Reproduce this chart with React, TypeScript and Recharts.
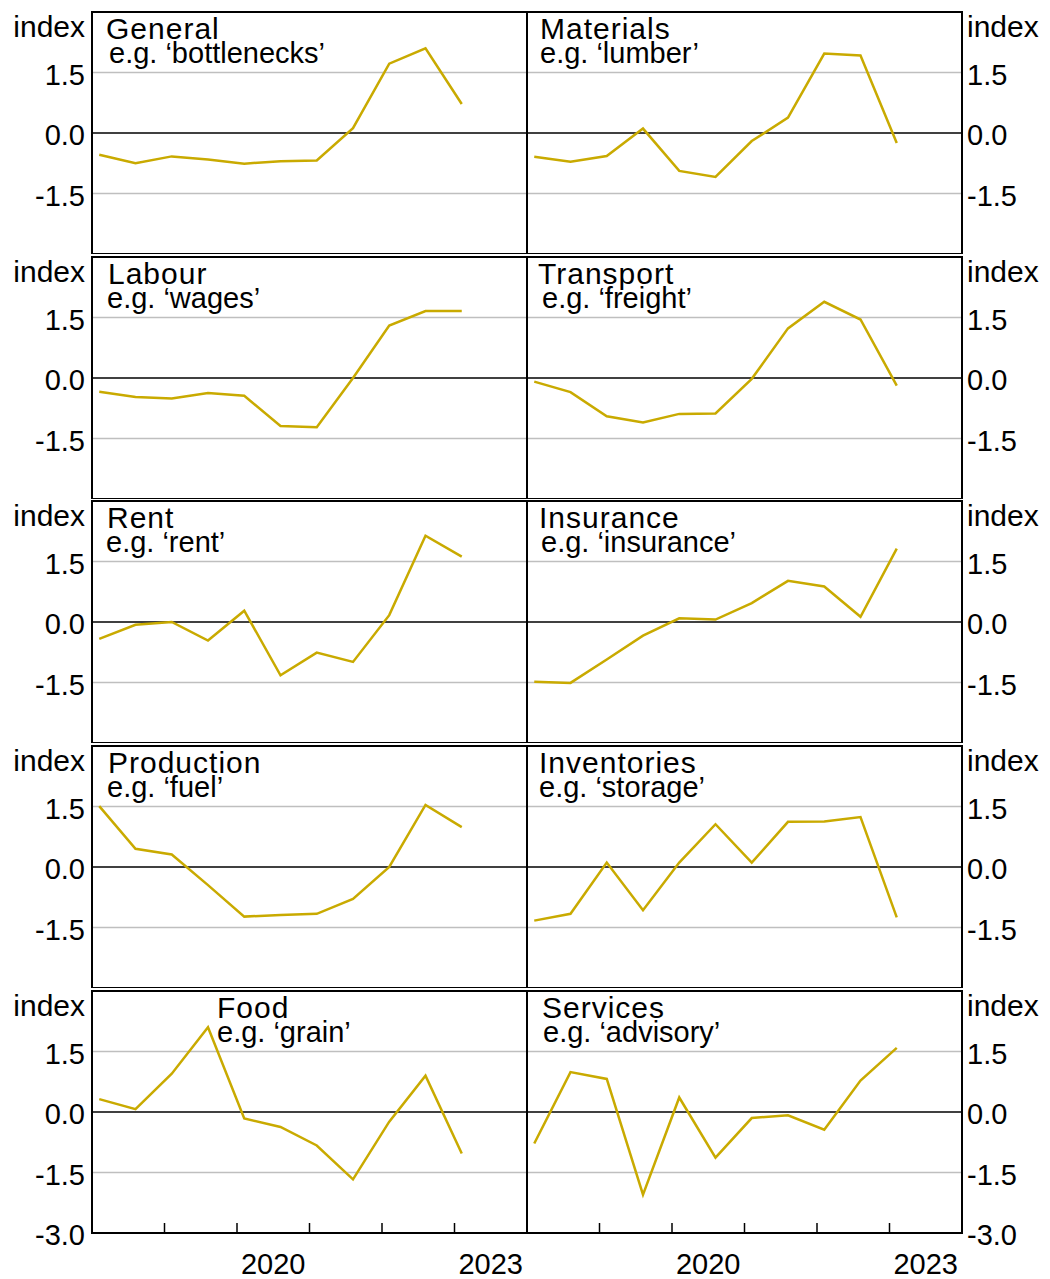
import React from 'react';
import { LineChart, Line, XAxis, YAxis, CartesianGrid, ReferenceLine, ReferenceArea } from 'recharts';

// Half-yearly observation dates (decimal years)
const periods = [2018.1, 2018.6, 2019.1, 2019.6, 2020.1, 2020.6, 2021.1, 2021.6, 2022.1, 2022.6, 2023.1];

const general = [-0.54, -0.75, -0.58, -0.66, -0.76, -0.7, -0.68, 0.12, 1.72, 2.1, 0.72];
const materials = [-0.59, -0.71, -0.57, 0.11, -0.94, -1.09, -0.2, 0.38, 1.97, 1.92, -0.25];
const labour = [-0.34, -0.47, -0.51, -0.37, -0.44, -1.19, -1.22, 0.0, 1.3, 1.66, 1.66];
const transport = [-0.09, -0.35, -0.95, -1.1, -0.89, -0.88, -0.02, 1.23, 1.89, 1.45, -0.19];
const rent = [-0.42, -0.07, 0.0, -0.46, 0.28, -1.32, -0.76, -0.99, 0.17, 2.14, 1.62];
const insurance = [-1.48, -1.51, -0.93, -0.34, 0.09, 0.06, 0.47, 1.02, 0.88, 0.13, 1.82];
const production = [1.51, 0.45, 0.31, -0.45, -1.23, -1.19, -1.16, -0.79, 0.0, 1.54, 0.99];
const inventories = [-1.33, -1.16, 0.11, -1.07, 0.11, 1.06, 0.11, 1.12, 1.13, 1.24, -1.25];
const food = [0.32, 0.07, 0.95, 2.1, -0.16, -0.37, -0.83, -1.67, -0.24, 0.9, -1.03];
const services = [-0.78, 0.99, 0.82, -2.05, 0.36, -1.13, -0.15, -0.08, -0.44, 0.78, 1.59];

const yTicksTop = [-1.5, 0, 1.5];
const yTicksBottom = [-3, -1.5, 0, 1.5];
// year boundaries get tick marks; mid-year positions carry the year labels
const yearTicks = [2019, 2020, 2021, 2022, 2023];
const yearLabelTicks = [2020.5, 2023.5];
const xTicks = [...yearTicks, ...yearLabelTicks].sort((a, b) => a - b);
const xDomain = [2018, 2024];
const yDomain = [-3, 3];

const panels = [
  { title: 'General', sub: 'e.g. \u2018bottlenecks\u2019', values: general, side: 'left', row: 0, tx: 106, sx: 109 },
  { title: 'Materials', sub: 'e.g. \u2018lumber\u2019', values: materials, side: 'right', row: 0, tx: 540, sx: 540 },
  { title: 'Labour', sub: 'e.g. \u2018wages\u2019', values: labour, side: 'left', row: 1, tx: 108, sx: 107 },
  { title: 'Transport', sub: 'e.g. \u2018freight\u2019', values: transport, side: 'right', row: 1, tx: 538, sx: 542 },
  { title: 'Rent', sub: 'e.g. \u2018rent\u2019', values: rent, side: 'left', row: 2, tx: 107, sx: 106 },
  { title: 'Insurance', sub: 'e.g. \u2018insurance\u2019', values: insurance, side: 'right', row: 2, tx: 539, sx: 541 },
  { title: 'Production', sub: 'e.g. \u2018fuel\u2019', values: production, side: 'left', row: 3, tx: 108, sx: 107 },
  { title: 'Inventories', sub: 'e.g. \u2018storage\u2019', values: inventories, side: 'right', row: 3, tx: 539, sx: 539 },
  { title: 'Food', sub: 'e.g. \u2018grain\u2019', values: food, side: 'left', row: 4, tx: 217, sx: 217 },
  { title: 'Services', sub: 'e.g. \u2018advisory\u2019', values: services, side: 'right', row: 4, tx: 542, sx: 543 },
];

const FONT = '"Liberation Sans", Arial, Helvetica, sans-serif';
const LINE_COLOR = '#C9AA00';
const ROW_TOPS = [12, 257, 501, 746, 991];
const TOP_PAD = 10;
const PLOT_H = 242;
const X_AXIS_H = 46;
const LEFT_W = 527;
const RIGHT_X = 527;
const RIGHT_W = 523;

const YTick = (props: any) => {
  const { x, y, payload, textAnchor } = props;
  return (
    <text x={x} y={y} dy={12} textAnchor={textAnchor} fontSize={29} fill="#000" fontFamily={FONT}>
      {Number(payload.value).toFixed(1)}
    </text>
  );
};

const XTick = (props: any) => {
  const { x, y, payload } = props;
  const v = Number(payload.value);
  if (Number.isInteger(v)) {
    return <line x1={x} x2={x} y1={y} y2={y - 10} stroke="#000" strokeWidth={1.5} />;
  }
  return (
    <text x={x} y={y} dy={41} textAnchor="middle" fontSize={29} fill="#000" fontFamily={FONT}>
      {Math.floor(v)}
    </text>
  );
};

function Panel({ p }: { p: any }) {
  const isLeft = p.side === 'left';
  const isBottom = p.row === 4;
  const width = isLeft ? LEFT_W : RIGHT_W;
  const height = TOP_PAD + PLOT_H + (isBottom ? X_AXIS_H : 0);
  const originX = isLeft ? 0 : RIGHT_X;
  const data = periods.map((x, i) => ({ x, v: p.values[i] }));
  return (
    <div style={{ position: 'absolute', left: originX, top: ROW_TOPS[p.row] - TOP_PAD, width, height }}>
      <LineChart width={width} height={height} data={data} margin={{ top: TOP_PAD, right: 0, bottom: 0, left: 0 }}>
        <XAxis
          type="number"
          dataKey="x"
          domain={xDomain}
          ticks={xTicks}
          allowDataOverflow
          hide={!isBottom}
          height={isBottom ? X_AXIS_H : 0}
          tickSize={0}
          tickMargin={0}
          tickLine={false}
          axisLine={false}
          tick={<XTick />}
          interval={0}
        />
        <YAxis
          type="number"
          domain={yDomain}
          ticks={isBottom ? yTicksBottom : yTicksTop}
          orientation={isLeft ? 'left' : 'right'}
          width={isLeft ? 92 : 88}
          axisLine={false}
          tickLine={false}
          tickSize={0}
          tickMargin={isLeft ? 7 : 5}
          tick={<YTick />}
          interval={0}
          allowDataOverflow
        />
        <CartesianGrid horizontal vertical={false} horizontalValues={[-1.5, 1.5]} stroke="#BFBFBF" strokeWidth={1.5} />
        <ReferenceLine y={0} stroke="#000" strokeWidth={1.5} />
        <Line
          type="linear"
          dataKey="v"
          stroke={LINE_COLOR}
          strokeWidth={2.5}
          dot={false}
          isAnimationActive={false}
        />
        <ReferenceArea x1={2018} x2={2024} y1={-3} y2={3} fill="none" fillOpacity={0} stroke="#000" strokeWidth={2} ifOverflow="visible" />
        <text x={isLeft ? 85 : 440} y={TOP_PAD + 25} textAnchor={isLeft ? 'end' : 'start'} fontSize={30} fill="#000" fontFamily={FONT}>
          index
        </text>
        <text x={p.tx - originX} y={TOP_PAD + 27} fontSize={30} letterSpacing={1} fill="#000" fontFamily={FONT}>
          {p.title}
        </text>
        <text x={p.sx - originX} y={TOP_PAD + 51} fontSize={29} fill="#000" fontFamily={FONT}>
          {p.sub}
        </text>
      </LineChart>
    </div>
  );
}

export default function App() {
  return (
    <div style={{ position: 'absolute', left: 0, top: 0, width: 1050, height: 1279, background: '#fff', overflow: 'hidden' }}>
      {panels.map((p) => (
        <Panel key={p.title} p={p} />
      ))}
    </div>
  );
}
